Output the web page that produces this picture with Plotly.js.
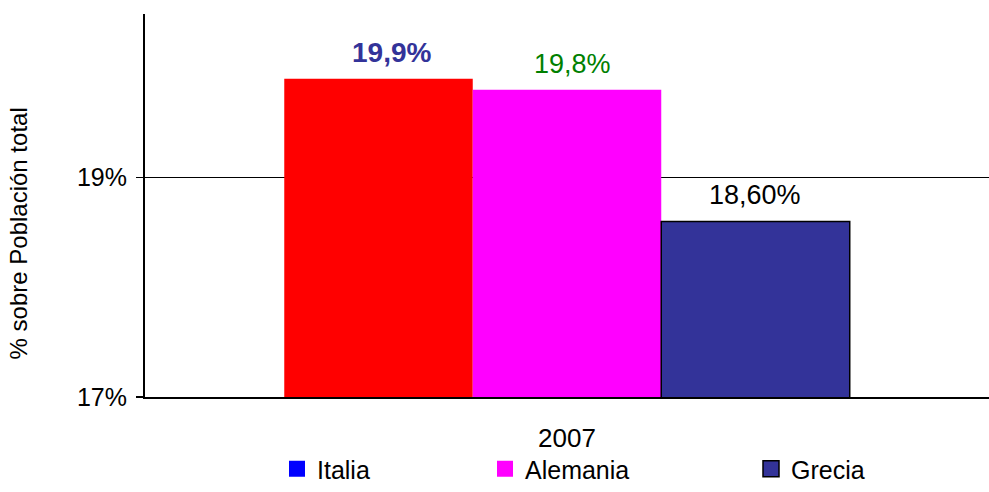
<!DOCTYPE html>
<html>
<head>
<meta charset="utf-8">
<script src="https://cdn.plot.ly/plotly-3.0.1.min.js"></script>
<style>html,body{margin:0;padding:0;background:#fff;}#chart{width:989px;height:492px;}</style>
</head>
<body>
<div id="chart"></div>
<script>
// ---- data ----
var categories = ['2007'];
var seriesNames = ['Italia', 'Alemania', 'Grecia'];
var italia = [19.9];
var alemania = [19.8];
var grecia = [18.6];
var labelDecimals = [1, 1, 2];
var yTickVals = [17, 19];
var yTickText = ['17%', '19%'];

// ---- style ----
var barColors = ['#FF0000', '#FF00FF', '#333399'];
var legendColors = ['#0000FF', '#FF00FF', '#333399'];
var labelColors = ['#333399', '#008000', '#000000'];
var labelBold = [true, false, false];
var labelSizes = [28, 27, 27];
var labelDx = [13, 5, 0];
var FONT = 'Arial, "Liberation Sans", sans-serif';
var W = 989, H = 492, ML = 145, MR = 0, MT = 14, MB = 94;
var BARGAP = 0.33;
var plotW = W - ML - MR;

var values = [italia, alemania, grecia];
var traces = [];
values.forEach(function (v, i) {
  traces.push({
    type: 'bar', x: categories, y: v, name: seriesNames[i], showlegend: false,
    marker: {color: barColors[i], line: {color: '#000', width: i === 2 ? 1.5 : 0}},
    hoverinfo: 'skip'
  });
});
var legendIds = ['legend', 'legend2', 'legend3'];
seriesNames.forEach(function (n, i) {
  traces.push({
    type: 'scatter', mode: 'markers', x: [null], y: [null], name: n,
    legend: legendIds[i], showlegend: true,
    marker: {symbol: 'square', size: 18, color: legendColors[i],
             line: {color: i === 2 ? '#000' : legendColors[i], width: i === 2 ? 1.5 : 0}}
  });
});

var barW = plotW * (1 - BARGAP) / values.length;
var annotations = values.map(function (v, i) {
  var txt = v[0].toFixed(labelDecimals[i]).replace('.', ',') + '%';
  if (labelBold[i]) txt = '<b>' + txt + '</b>';
  return {
    xref: 'x', yref: 'y', x: 0, y: v[0], text: txt, showarrow: false,
    xanchor: 'center', yanchor: 'bottom', yshift: 9,
    xshift: (i - (values.length - 1) / 2) * barW + labelDx[i],
    font: {family: FONT, size: labelSizes[i], color: labelColors[i]}
  };
});
annotations.push({
  xref: 'paper', yref: 'paper', x: 0, xshift: -127, y: (H - MB - 234) / (H - MT - MB),
  text: '% sobre Población total', textangle: -90, showarrow: false,
  xanchor: 'center', yanchor: 'middle',
  font: {family: FONT, size: 24, color: '#000'}
});

function legendAt(px) {
  return {
    x: (px - ML) / plotW, xanchor: 'left', y: -(470 - (H - MB)) / (H - MT - MB), yanchor: 'middle',
    orientation: 'h', bgcolor: 'rgba(0,0,0,0)', borderwidth: 0,
    font: {family: FONT, size: 25, color: '#000'}
  };
}

var layout = {
  width: W, height: H,
  margin: {l: ML, r: MR, t: MT, b: MB, pad: 0},
  paper_bgcolor: '#fff', plot_bgcolor: '#fff',
  barmode: 'group', bargap: BARGAP, bargroupgap: 0,
  font: {family: FONT, color: '#000'},
  showlegend: true,
  legend: legendAt(277),
  legend2: legendAt(485),
  legend3: legendAt(751),
  xaxis: {
    type: 'category', showgrid: false, zeroline: false,
    showline: true, linecolor: '#000', linewidth: 2,
    ticks: '', ticklabelstandoff: 17,
    tickfont: {family: FONT, size: 26, color: '#000'}
  },
  yaxis: {
    range: [17, 17 + (H - MT - MB) / 110], tickvals: yTickVals, ticktext: yTickText,
    showgrid: true, gridcolor: '#000', gridwidth: 1.5, zeroline: false,
    showline: true, linecolor: '#000', linewidth: 2,
    ticks: 'outside', ticklen: 7, tickcolor: '#000', tickwidth: 1.5,
    ticklabelstandoff: 4,
    tickfont: {family: FONT, size: 25, color: '#000'}
  },
  shapes: [{
    type: 'line', xref: 'paper', x0: 0, x1: 0, yref: 'y', ysizemode: 'pixel', yanchor: 17,
    y0: 0, y1: -8, line: {color: '#000', width: 2}
  }],
  annotations: annotations
};

Plotly.newPlot('chart', traces, layout, {displayModeBar: false, staticPlot: true});
</script>
</body>
</html>
